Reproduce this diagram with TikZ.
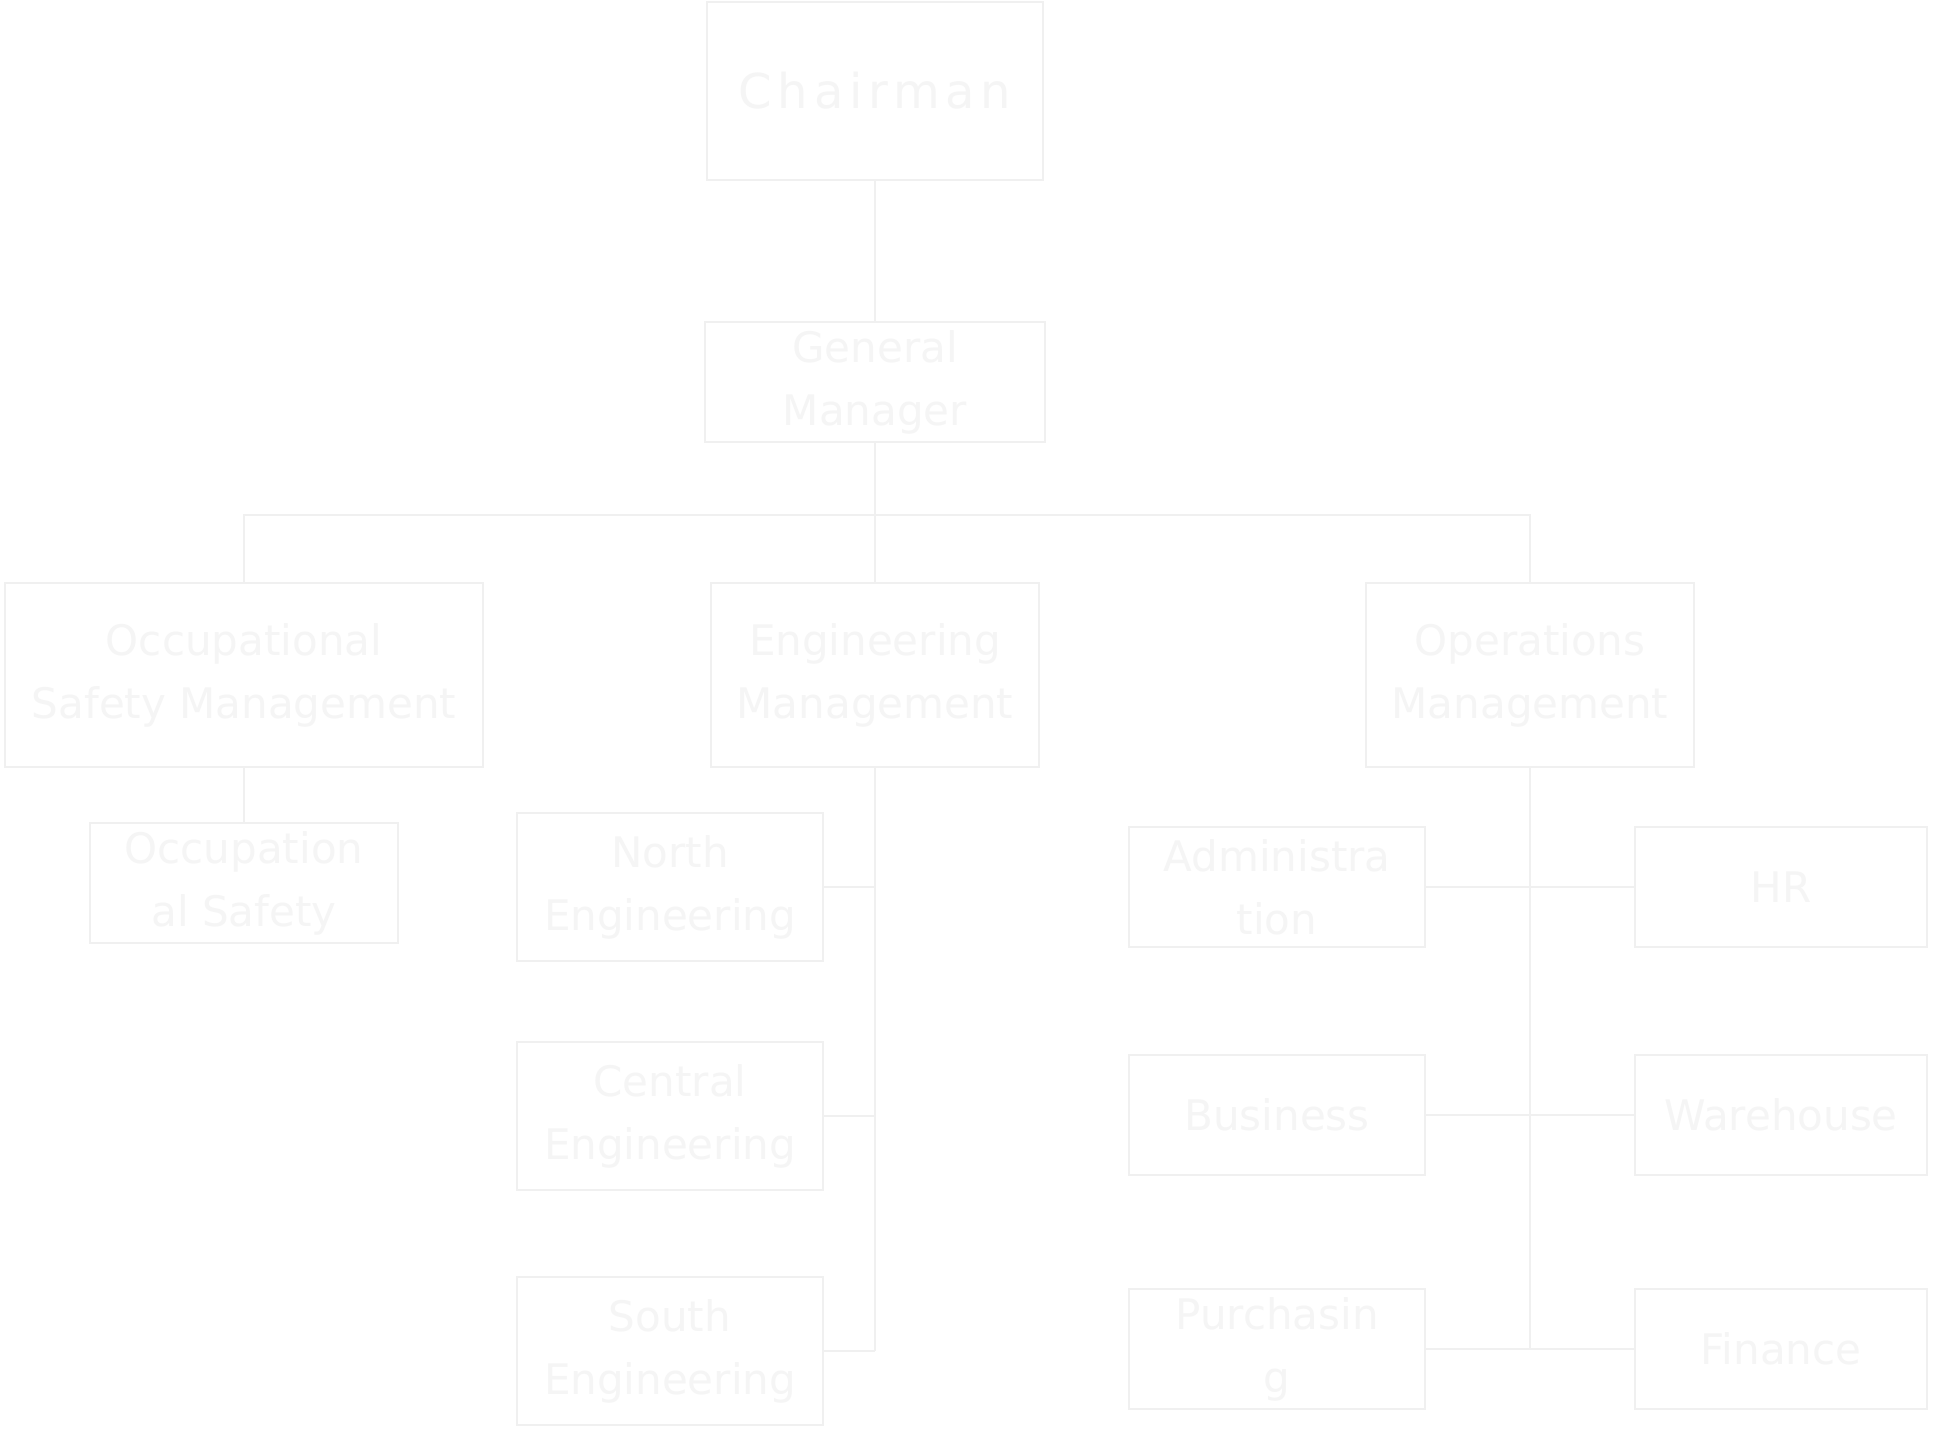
\documentclass[tikz,border=0pt]{standalone}
\usepackage{fontspec}
\setmainfont{DejaVu Sans}
\usepackage{tikz}
\usepackage{xcolor}
\definecolor{chartline}{HTML}{F0F0F0}
\definecolor{charttext}{HTML}{F5F5F5}

\begin{document}
\begin{tikzpicture}[x=0.5pt,y=-0.5pt,
    unit/.style={draw=chartline,line width=0.8pt,text=charttext,align=center,
      inner sep=0pt,font=\fontsize{21}{31.5}\selectfont},
    link/.style={draw=chartline,line width=0.8pt}]
  \useasboundingbox[fill=white] (0,0) rectangle (1934,1440);
  %top
  \node[unit,minimum width=168pt,minimum height=89pt,
    font=\fontsize{24}{30}\selectfont\addfontfeature{LetterSpace=12}]
    (chair) at (875,91) {Chairman};
  \node[unit,minimum width=170pt,minimum height=60pt] (gm) at (875,382) {General\\Manager};
  %departments
  \node[unit,minimum width=239pt,minimum height=92pt] (occ) at (244,675)
    {Occupational\\Safety Management};
  \node[unit,minimum width=164pt,minimum height=92pt] (eng) at (875,675)
    {Engineering\\Management};
  \node[unit,minimum width=164pt,minimum height=92pt] (ops) at (1530,675)
    {Operations\\Management};
  %units
  \node[unit,minimum width=154pt,minimum height=60pt] (occsafe) at (244,883)
    {Occupation\\al Safety};
  \node[unit,minimum width=153pt,minimum height=74pt] (north) at (670,887) {North\\Engineering};
  \node[unit,minimum width=153pt,minimum height=74pt] (central) at (670,1116) {Central\\Engineering};
  \node[unit,minimum width=153pt,minimum height=74pt] (south) at (670,1351) {South\\Engineering};
  \node[unit,minimum width=148pt,minimum height=60pt] (admin) at (1277,887) {Administra\\tion};
  \node[unit,minimum width=146pt,minimum height=60pt] (hr) at (1781,887) {HR};
  \node[unit,minimum width=148pt,minimum height=60pt] (business) at (1277,1115) {Business};
  \node[unit,minimum width=146pt,minimum height=60pt] (warehouse) at (1781,1115) {Warehouse};
  \node[unit,minimum width=148pt,minimum height=60pt] (purch) at (1277,1349) {Purchasin\\g};
  \node[unit,minimum width=146pt,minimum height=60pt] (finance) at (1781,1349) {Finance};
  %connectors
  \coordinate (bus) at (875,515);
  \draw[link] (chair) -- (gm);
  \draw[link] (gm) -- (eng);
  \draw[link] (bus) -| (occ.north);
  \draw[link] (bus) -| (ops.north);
  \draw[link] (occ) -- (occsafe);
  \draw[link] (eng.south) -- (eng.south |- south.east);
  \foreach \n in {north,central,south}
    \draw[link] (\n.east) -- (\n.east -| eng.south);
  \draw[link] (ops.south) -- (ops.south |- purch.east);
  \foreach \l/\r in {admin/hr,business/warehouse,purch/finance}
    \draw[link] (\l.east) -- (\r.west);
\end{tikzpicture}
\end{document}
